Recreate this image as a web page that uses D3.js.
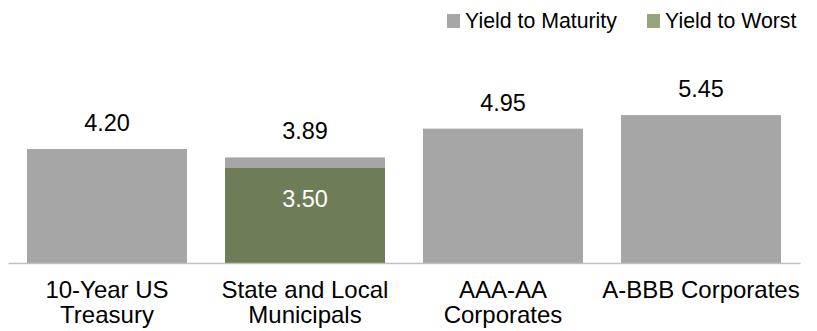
<!DOCTYPE html>
<html>
<head>
<meta charset="utf-8">
<script src="https://cdn.jsdelivr.net/npm/d3@7"></script>
<style>
  html, body { margin: 0; padding: 0; background: #fff; }
  svg { display: block; font-family: "Liberation Sans", Arial, sans-serif; }
</style>
</head>
<body>
<svg id="chart" width="817" height="331"></svg>
<script>
// Yield comparison across fixed-income sectors
const categories = ["10-Year US Treasury", "State and Local Municipals", "AAA-AA Corporates", "A-BBB Corporates"];
const categoryLines = [["10-Year US", "Treasury"], ["State and Local", "Municipals"], ["AAA-AA", "Corporates"], ["A-BBB Corporates"]];
const yieldToMaturity = [4.20, 3.89, 4.95, 5.45];
const yieldToWorst = [null, 3.50, null, null];
const seriesNames = ["Yield to Maturity", "Yield to Worst"];

const colors = { ytm: "#a6a6a6", ytw: "#6e7d57", ytwKey: "#94a57a", axis: "#bfbfbf", text: "#000" };

const svg = d3.select("#chart");
const baseY = 263;

const x = d3.scaleBand()
  .domain(categories)
  .range([8, 800])
  .paddingInner(0.192)
  .paddingOuter(0.096);

const y = d3.scaleLinear()
  .domain([0, 6])
  .range([baseY, baseY - 6 * 27.14]);

// Yield to maturity bars
svg.append("g").selectAll("rect")
  .data(categories)
  .join("rect")
  .attr("x", d => x(d))
  .attr("width", x.bandwidth())
  .attr("y", (d, i) => y(yieldToMaturity[i]))
  .attr("height", (d, i) => y(0) - y(yieldToMaturity[i]))
  .attr("fill", colors.ytm);

// Yield to worst overlay
const ytwData = categories.map((c, i) => ({ c, v: yieldToWorst[i] })).filter(d => d.v != null);
svg.append("g").selectAll("rect")
  .data(ytwData)
  .join("rect")
  .attr("x", d => x(d.c))
  .attr("width", x.bandwidth())
  .attr("y", d => y(d.v))
  .attr("height", d => y(0) - y(d.v))
  .attr("fill", colors.ytw);

// Baseline
const axis = svg.append("g")
  .attr("transform", `translate(0,${baseY})`)
  .call(d3.axisBottom(x).tickSize(0).tickFormat(""));
axis.select(".domain").attr("stroke", colors.axis).attr("stroke-width", 1.5);

// Value labels
svg.append("g").selectAll("text")
  .data(categories)
  .join("text")
  .attr("x", d => x(d) + x.bandwidth() / 2)
  .attr("y", (d, i) => y(yieldToMaturity[i]) - 18)
  .attr("text-anchor", "middle")
  .attr("font-size", 23.5)
  .attr("fill", colors.text)
  .text((d, i) => d3.format(".2f")(yieldToMaturity[i]));

svg.append("g").selectAll("text")
  .data(ytwData)
  .join("text")
  .attr("x", d => x(d.c) + x.bandwidth() / 2)
  .attr("y", d => y(d.v) + 39)
  .attr("text-anchor", "middle")
  .attr("font-size", 23.5)
  .attr("fill", "#fff")
  .text(d => d3.format(".2f")(d.v));

// Category labels
const cat = svg.append("g").selectAll("text")
  .data(categories)
  .join("text")
  .attr("x", d => x(d) + x.bandwidth() / 2)
  .attr("y", 298)
  .attr("text-anchor", "middle")
  .attr("font-size", 24)
  .attr("fill", colors.text);
cat.selectAll("tspan")
  .data((d, i) => categoryLines[i])
  .join("tspan")
  .attr("x", function () { return this.parentNode.getAttribute("x"); })
  .attr("dy", (d, j) => j === 0 ? 0 : 25)
  .text(d => d);

// Legend
const legendItems = [
  { name: seriesNames[0], color: colors.ytm, x: 447 },
  { name: seriesNames[1], color: colors.ytwKey, x: 647 }
];
const lg = svg.append("g").selectAll("g")
  .data(legendItems)
  .join("g")
  .attr("transform", d => `translate(${d.x},0)`);
lg.append("rect")
  .attr("x", 0).attr("y", 14)
  .attr("width", 13).attr("height", 14)
  .attr("fill", d => d.color);
lg.append("text")
  .attr("x", 18).attr("y", 28)
  .attr("font-size", 21.3)
  .attr("fill", colors.text)
  .text(d => d.name);
</script>
</body>
</html>
